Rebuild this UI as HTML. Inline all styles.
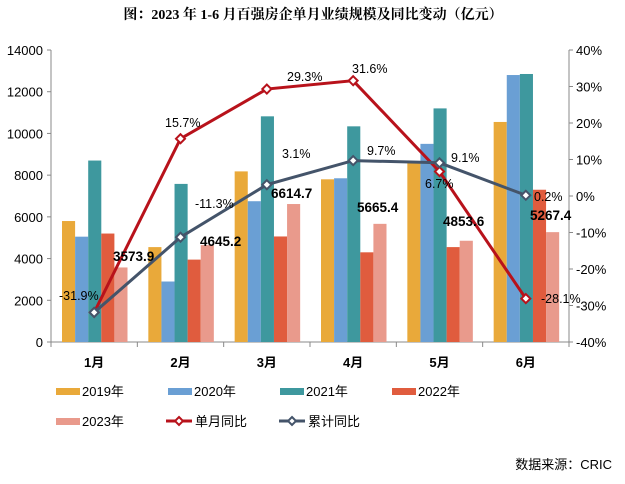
<!DOCTYPE html>
<html><head><meta charset="utf-8"><style>
body{margin:0;background:#fff;}
svg text{font-family:"Liberation Sans","Noto Sans CJK SC",sans-serif;}
</style></head><body>
<svg id="s" width="625" height="479" xmlns="http://www.w3.org/2000/svg"></svg>
<script>
var s=document.getElementById('s'),h='';
h+='<text x="313" y="19" text-anchor="middle" font-size="14" font-weight="bold" style="font-family:\'Liberation Serif\',\'Noto Serif CJK SC\',serif">图：2023 年 1-6 月百强房企单月业绩规模及同比变动（亿元）</text>';
var L=51,R=569,T=50,B=342,cw=(R-L)/6;
function vy(v){return B-v/14000*(B-T);}
function py(p){return 196-p*3.65;}
h+='<line x1="'+L+'" y1="'+T+'" x2="'+L+'" y2="'+B+'" stroke="#888"/>';
h+='<line x1="'+R+'" y1="'+T+'" x2="'+R+'" y2="'+B+'" stroke="#888"/>';
h+='<line x1="'+L+'" y1="'+B+'" x2="'+R+'" y2="'+B+'" stroke="#888"/>';
for(var i=0;i<=7;i++){var y=vy(i*2000);h+='<line x1="'+(L-4)+'" y1="'+y+'" x2="'+L+'" y2="'+y+'" stroke="#888"/><text x="'+(L-8)+'" y="'+(y+5)+'" text-anchor="end" font-size="13">'+(i*2000)+'</text>';}
for(var i=0;i<=8;i++){var p=40-i*10,y=py(p);h+='<line x1="'+R+'" y1="'+y+'" x2="'+(R+4)+'" y2="'+y+'" stroke="#888"/><text x="'+(R+7)+'" y="'+(y+5)+'" font-size="13">'+p+'%</text>';}
for(var i=0;i<=6;i++){var x=L+i*cw;h+='<line x1="'+x+'" y1="'+B+'" x2="'+x+'" y2="'+(B+5)+'" stroke="#888"/>';}
var cols=['#E9A93A','#6A9FD4','#3E989E','#E05C3E','#E99A8C'];
var d=[[5800,5050,8700,5200,3574],[4550,2900,7580,3950,4645],[8180,6750,10820,5060,6615],[7800,7850,10340,4300,5665],[8600,9500,11200,4550,4854],[10550,12800,12850,7300,5267]];
var lab=['3573.9','4645.2','6614.7','5665.4','4853.6','5267.4'];
for(var m=0;m<6;m++){var x0=L+m*cw+11;for(var k=0;k<5;k++){var y=vy(d[m][k]);h+='<rect x="'+(x0+k*13.1)+'" y="'+y+'" width="13.1" height="'+(B-y)+'" fill="'+cols[k]+'"/>';}
h+='<text x="'+(L+m*cw+cw/2)+'" y="367" text-anchor="middle" font-size="13" font-weight="bold">'+(m+1)+'月</text>';}
var red=[-31.9,15.7,29.3,31.6,6.7,-28.1],gr=[-31.9,-11.3,3.1,9.7,9.1,0.2];
function line(a,c){var p=a.map(function(v,i){return (L+i*cw+cw/2)+','+py(v);}).join(' ');var r='<polyline points="'+p+'" fill="none" stroke="'+c+'" stroke-width="3"/>';a.forEach(function(v,i){var x=L+i*cw+cw/2,y=py(v);r+='<polygon points="'+x+','+(y-4.5)+' '+(x+4.5)+','+y+' '+x+','+(y+4.5)+' '+(x-4.5)+','+y+'" fill="#fff" stroke="'+c+'" stroke-width="2"/>';});return r;}
h+=line(red,'#B8121B');h+=line(gr,'#44546A');
var lb=[[-31.9,59,300],[15.7,165,127],[29.3,287,81],[31.6,352,73],[6.7,425,188],[-28.1,541,303],[-11.3,195,208],[3.1,282,158],[9.7,367,155],[9.1,451,162],[0.2,534,201]];
lb.forEach(function(a){h+='<text x="'+a[1]+'" y="'+a[2]+'" font-size="12.5">'+a[0].toFixed(1)+'%</text>';});
var bl=[[113,261],[200,246],[271,198],[357,212],[443,226],[530,220]];
bl.forEach(function(a,i){h+='<text x="'+a[0]+'" y="'+a[1]+'" font-size="13.5" font-weight="bold">'+lab[i]+'</text>';});
var yrs=['2019年','2020年','2021年','2022年'];
for(var k=0;k<4;k++){var x=56+k*112;h+='<rect x="'+x+'" y="388" width="24" height="7" fill="'+cols[k]+'"/><text x="'+(x+26)+'" y="396" font-size="13">'+yrs[k]+'</text>';}
h+='<rect x="56" y="418" width="24" height="7" fill="'+cols[4]+'"/><text x="82" y="426" font-size="13">2023年</text>';
[['#B8121B',166,'单月同比'],['#44546A',279,'累计同比']].forEach(function(a){var x=a[1];h+='<line x1="'+x+'" y1="421" x2="'+(x+26)+'" y2="421" stroke="'+a[0]+'" stroke-width="3"/><polygon points="'+(x+13)+',417 '+(x+17)+',421 '+(x+13)+',425 '+(x+9)+',421" fill="#fff" stroke="'+a[0]+'" stroke-width="2"/><text x="'+(x+29)+'" y="426" font-size="13">'+a[2]+'</text>';});
h+='<text x="612" y="469" text-anchor="end" font-size="13">数据来源：CRIC</text>';
s.innerHTML=h;
</script>
</body></html>
